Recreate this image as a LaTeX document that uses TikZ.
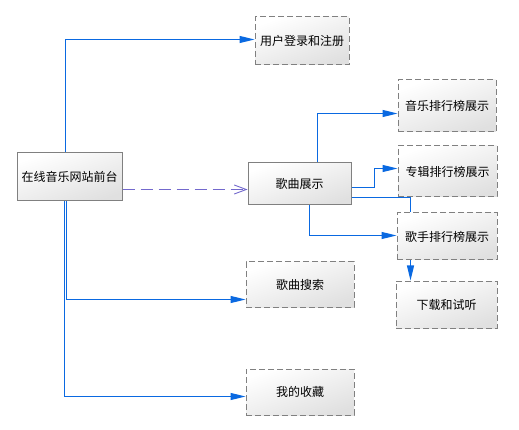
\documentclass[tikz,border=0pt]{standalone}
\usepackage{fontspec}
\setmainfont{Noto Sans CJK SC}
\usetikzlibrary{arrows.meta}
\definecolor{lineblue}{RGB}{10,105,225}
\definecolor{dashpurple}{RGB}{115,105,205}
\definecolor{boxgray}{RGB}{128,128,128}
\tikzset{
  x=1pt,y=-1pt,
  boxbase/.style={draw=boxgray, text=black, line width=1pt, top color=white, bottom color=black!12,
    shading angle=20, font=\fontsize{12}{14}\selectfont, inner sep=0pt},
  solidbox/.style={boxbase},
  dashbox/.style={boxbase, dash pattern=on 6pt off 3pt},
  conn/.style={draw=lineblue, line width=1.2pt, -{Triangle[length=15pt,width=7pt]}},
  connplain/.style={draw=lineblue, line width=1.2pt},
  dashconn/.style={draw=dashpurple, line width=0.9pt, dash pattern=on 12pt off 6pt,
    -{Straight Barb[length=12pt,width=9pt,line width=0.9pt]}},
}
\newcommand{\boxat}[6]{\node[#1, minimum width=#4-#2, minimum height=#5-#3] (#6) at ({(#2+#4)/2},{(#3+#5)/2})}
\begin{document}
\begin{tikzpicture}[color=lineblue]
\useasboundingbox (0,0) rectangle (519,430);
\boxat{solidbox}{17}{153}{122}{201}{root} {在线音乐网站前台};
\boxat{dashbox}{255}{17}{349}{65}{login} {用户登录和注册};
\boxat{solidbox}{248}{163}{351}{205}{show} {歌曲展示};
\boxat{dashbox}{398}{80}{496}{132}{music} {音乐排行榜展示};
\boxat{dashbox}{398}{146}{497}{197}{album} {专辑排行榜展示};
\boxat{dashbox}{397}{213}{497}{260}{singer} {歌手排行榜展示};
\boxat{dashbox}{396}{281}{497}{328}{down} {下载和试听};
\boxat{dashbox}{246}{262}{354}{307}{search} {歌曲搜索};
\boxat{dashbox}{246}{369}{354}{415}{fav} {我的收藏};
% coordinates for routing
\coordinate (r1) at (65.5,39.5);
\coordinate (r2) at (66.5,299.5);
\coordinate (r3) at (64.5,396.5);
\coordinate (s1) at (317.5,113.5);
\coordinate (s2a) at (374.5,187.5);
\coordinate (s2b) at (374.5,168.5);
\coordinate (s3) at (410.5,197.5);
\coordinate (s4) at (309.5,235.5);
% root connectors
\draw[conn] (root.north -| r1) -- (r1) -- (login.west |- r1);
\draw[conn] (root.south -| r2) -- (r2) -- (search.west |- r2);
\draw[conn] (root.south -| r3) -- (r3) -- (fav.west |- r3);
% show connectors
\draw[conn] (show.north -| s1) -- (s1) -- (music.west |- s1);
\draw[conn] (show.east |- s2a) -- (s2a) -- (s2b) -- (album.west |- s2b);
\draw[connplain] (show.east |- s3) -- (s3) -- (singer.north -| s3);
\draw[conn] (show.south -| s4) -- (s4) -- (singer.west |- s4);
\draw[conn] (singer.south -| s3) -- (down.north -| s3);
\draw[dashconn] (root.east |- 0,189.5) -- (show.west |- 0,189.5);
\end{tikzpicture}
\end{document}
